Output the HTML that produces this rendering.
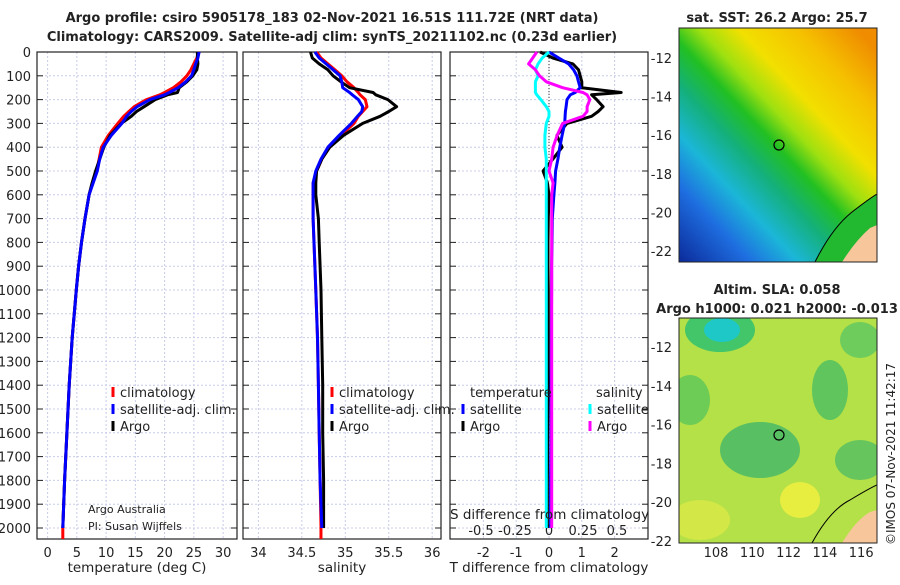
<!DOCTYPE html>
<html><head><meta charset="utf-8"><style>
body{margin:0;background:#fff;width:900px;height:580px;overflow:hidden}
svg{font-family:"DejaVu Sans","Liberation Sans",sans-serif}
</style></head><body>
<svg id="c" width="900" height="580" viewBox="0 0 900 580">
<defs>
<linearGradient id="sst" x1="0" y1="1" x2="0.9" y2="0">
<stop offset="0" stop-color="#0b2a9a"/><stop offset="0.18" stop-color="#1e6ee0"/><stop offset="0.3" stop-color="#1bb6d8"/><stop offset="0.42" stop-color="#14b07a"/><stop offset="0.52" stop-color="#22c022"/><stop offset="0.6" stop-color="#9ee010"/><stop offset="0.7" stop-color="#f2e000"/><stop offset="0.85" stop-color="#f5c000"/><stop offset="1" stop-color="#ef8c00"/>
</linearGradient>
<clipPath id="m1"><rect x="679" y="28" width="198" height="234"/></clipPath>
<clipPath id="m2"><rect x="679" y="318" width="198" height="225"/></clipPath>
</defs>
<g id="g"></g>
</svg>
<script>
// ---- data ----
const depths=[0,25,50,75,100,125,150,170,180,200,230,250,270,300,350,400,450,500,550,600,700,800,900,1000,1200,1400,1600,1800,2000];
const tempClim=[25.9,25.5,25,24.5,23.8,22.8,21.5,20,19.2,16.9,14.8,13.9,13,12,10.4,9.2,8.8,8.4,7.7,7.1,6.4,5.8,5.3,4.9,4.2,3.7,3.3,2.9,2.6];
const tempSat=[25.9,25.7,25.3,25,24.6,23.6,22.3,20.8,20,17.5,15.3,14.3,13.5,12.7,10.9,9.5,8.9,8.5,7.8,7.1,6.4,5.8,5.3,4.9,4.2,3.7,3.3,2.9,2.6];
const tempArgo=[25.6,25.6,25.7,25.5,24.8,23.8,22.5,22.2,20.5,18.4,16.5,15.2,14.3,12.6,10.7,9.6,8.9,8.2,7.6,7.1,6.4,5.8,5.3,4.9,4.2,3.7,3.3,2.9,2.6];
const salClim=[34.67,34.72,34.8,34.88,34.96,35.02,35.1,35.15,35.17,35.23,35.25,35.2,35.15,35.1,34.95,34.82,34.73,34.67,34.63,34.63,34.63,34.64,34.65,34.66,34.68,34.69,34.7,34.71,34.72];
const salSat=[34.65,34.7,34.78,34.86,34.94,34.96,34.97,35.05,35.08,35.15,35.2,35.19,35.14,35.07,34.93,34.8,34.72,34.66,34.63,34.63,34.63,34.64,34.65,34.66,34.68,34.69,34.7,34.71,34.73];
const salArgo=[34.6,34.62,34.7,34.8,34.86,34.95,35.05,35.32,35.35,35.49,35.59,35.5,35.4,35.2,34.98,34.82,34.73,34.67,34.66,34.66,34.69,34.7,34.71,34.72,34.73,34.74,34.74,34.75,34.75];
const dTSat=[0,0.3,0.6,0.75,0.85,0.9,0.95,0.8,0.65,0.55,0.52,0.5,0.49,0.48,0.4,0.33,0.27,0.2,0.18,0.15,0.1,0.09,0.08,0.08,0.07,0.06,0.06,0.05,0.05];
const dTArgo=[-0.27,0.12,0.73,0.9,0.95,1.0,1.0,2.2,1.3,1.45,1.65,1.5,1.3,0.55,0.24,0.4,0.12,-0.18,-0.05,0,-0.02,-0.03,-0.03,-0.02,-0.02,-0.03,-0.04,-0.05,-0.05];
const dSSat=[0,-0.05,-0.08,-0.1,-0.08,-0.1,-0.1,-0.1,-0.09,-0.06,-0.02,0,0,-0.02,-0.03,-0.03,-0.02,-0.02,-0.02,-0.02,-0.02,-0.02,-0.02,-0.02,-0.02,-0.02,-0.02,-0.02,-0.02];
const dSArgo=[-0.09,-0.12,-0.15,-0.1,-0.07,-0.02,0.1,0.25,0.28,0.3,0.28,0.28,0.25,0.1,0.06,0.03,0.02,0,0.03,0.02,0.02,0.02,0.02,0.02,0.02,0.02,0.02,0.02,0.02];
const depthTicks=[0,100,200,300,400,500,600,700,800,900,1000,1100,1200,1300,1400,1500,1600,1700,1800,1900,2000];
const tempTicks=[0,5,10,15,20,25,30];
const salTicks=[34,34.5,35,35.5,36];
const dTTicks=[-2,-1,0,1,2];
const dSTicks=[-0.5,-0.25,0,0.25,0.5];
const dSTickLabels=["-0.5","-0.25","0","0.25","0.5"];
const latTicks=[-12,-14,-16,-18,-20,-22];
const lonTicks=[108,110,112,114,116];
// ---- scales ----
const Y=d=>52+d*0.238;
const panels=[{x0:37,x1:237},{x0:243,x1:441},{x0:450,x1:648}];
const XT=t=>47.6+t*5.85, XS=s=>258.4+(s-34)*86.9, XdT=t=>549+t*32.8, XdS=s=>549+s*136;
const NS="http://www.w3.org/2000/svg", G=document.getElementById('g');
function el(tag,attrs,name,parent){const e=document.createElementNS(NS,tag);for(const k in attrs)e.setAttribute(k,attrs[k]);


(parent||G).appendChild(e);return e;}
function txt(x,y,s,name,o){const e=el('text',Object.assign({x:x,y:y,'font-size':13,fill:'#222'},o||{}),name);e.textContent=s;return e;}
function line(xs,X,col,name,w){let d='';depths.forEach((dp,i)=>{d+=(i?'L':'M')+X(xs[i]).toFixed(1)+','+Y(dp).toFixed(1)});el('path',{d:d,fill:'none',stroke:col,'stroke-width':w||3,'stroke-linejoin':'round'},name);}
panels.forEach((p,pi)=>{
 depthTicks.forEach(d=>{el('line',{x1:p.x0,x2:p.x1,y1:Y(d),y2:Y(d),stroke:'#c8cce8','stroke-dasharray':'2,2','stroke-width':1},'grid-h');
  el('line',{x1:p.x0,x2:p.x0+6,y1:Y(d),y2:Y(d),stroke:'#222'},'tick');el('line',{x1:p.x1-6,x2:p.x1,y1:Y(d),y2:Y(d),stroke:'#222'},'tick');});
});
tempTicks.forEach(t=>{el('line',{x1:XT(t),x2:XT(t),y1:52,y2:539,stroke:'#c8cce8','stroke-dasharray':'2,2'},'grid-v');txt(XT(t),557,String(t),'temp-tick-label',{'text-anchor':'middle'});});
salTicks.forEach(t=>{el('line',{x1:XS(t),x2:XS(t),y1:52,y2:539,stroke:'#c8cce8','stroke-dasharray':'2,2'},'grid-v');txt(XS(t),557,String(t),'sal-tick-label',{'text-anchor':'middle'});});
dTTicks.forEach(t=>{el('line',{x1:XdT(t),x2:XdT(t),y1:52,y2:539,stroke:'#c8cce8','stroke-dasharray':'2,2'},'grid-v');txt(XdT(t),557,String(t),'dt-tick-label',{'text-anchor':'middle'});});
dSTicks.forEach((t,i)=>txt(XdS(t),535,dSTickLabels[i],'ds-tick-label',{'text-anchor':'middle'}));
panels.forEach(p=>el('rect',{x:p.x0,y:52,width:p.x1-p.x0,height:487,fill:'none',stroke:'#222','stroke-width':1.2},'panel-frame'));
depthTicks.forEach(d=>txt(31,Y(d)+5,String(d),'depth-tick-label',{'text-anchor':'end'}));
line(tempClim,XT,'#f00','temp-climatology');line(tempArgo,XT,'#000','temp-argo');line(tempSat,XT,'#00f','temp-satellite');
line(salClim,XS,'#f00','sal-climatology');line(salArgo,XS,'#000','sal-argo');line(salSat,XS,'#00f','sal-satellite');
el('line',{x1:549,x2:549,y1:52,y2:Y(500),stroke:'#333','stroke-dasharray':'1,2'},'zero-line');
line(dTArgo,XdT,'#000','dt-argo');line(dTSat,XdT,'#00f','dt-satellite');line(dSSat,XdS,'#0ff','ds-satellite');line(dSArgo,XdS,'#f0f','ds-argo');
el('line',{x1:XT(2.6),x2:XT(2.6),y1:Y(2000),y2:539,stroke:'#f00','stroke-width':3},'temp-clim-bottom');
el('line',{x1:XS(34.72),x2:XS(34.72),y1:Y(2000),y2:539,stroke:'#f00','stroke-width':3},'sal-clim-bottom');
function leg(x,y,col,label){el('line',{x1:x,x2:x,y1:y-10,y2:y,stroke:col,'stroke-width':3},'legend-marker');txt(x+7,y,label,'legend-entry');}
[[113,'#f00','climatology'],[113,'#00f','satellite-adj. clim.'],[113,'#000','Argo']].forEach((l,i)=>leg(l[0],397+i*17,l[1],l[2]));
[[332,'#f00','climatology'],[332,'#00f','satellite-adj. clim.'],[332,'#000','Argo']].forEach((l,i)=>leg(l[0],397+i*17,l[1],l[2]));
txt(470,397,'temperature','legend-title');txt(596,397,'salinity','legend-title');
leg(463,414,'#00f','satellite');leg(463,431,'#000','Argo');leg(590,414,'#0ff','satellite');leg(590,431,'#f0f','Argo');
txt(88,513,'Argo Australia','credit',{'font-size':11});txt(88,530,'PI: Susan Wijffels','credit',{'font-size':11});
txt(450,519,'S difference from climatology','ds-axis-title',{'font-size':13.5});
txt(137,572,'temperature (deg C)','x-axis-title',{'text-anchor':'middle','font-size':13.5});
txt(342,572,'salinity','x-axis-title',{'text-anchor':'middle','font-size':13.5});
txt(549,572,'T difference from climatology','x-axis-title',{'text-anchor':'middle','font-size':13.5});
txt(332,22,'Argo profile: csiro 5905178_183 02-Nov-2021 16.51S 111.72E (NRT data)','title-line1',{'text-anchor':'middle','font-weight':'bold','font-size':13});
txt(332,41,'Climatology: CARS2009. Satellite-adj clim: synTS_20211102.nc (0.23d earlier)','title-line2',{'text-anchor':'middle','font-weight':'bold','font-size':13});
const mg1=el('g',{'clip-path':'url(#m1)'},'sst-map');
el('rect',{x:679,y:28,width:198,height:234,fill:'url(#sst)'},'sst-field',mg1);
el('path',{d:'M815,262 Q832,228 852,212 Q870,198 877,194 L877,262 Z',fill:'#22b830',stroke:'#000'},'coast-land-green',mg1);
el('path',{d:'M842,262 Q856,240 870,228 L877,225 L877,262 Z',fill:'#f7c69a'},'land',mg1);
const mg2=el('g',{'clip-path':'url(#m2)'},'sla-map');
el('rect',{x:679,y:318,width:198,height:225,fill:'#b4e048'},'sla-field',mg2);
[[720,330,35,22,'#2fc070'],[722,330,18,12,'#18c8d8'],[690,400,20,25,'#60c858'],[830,390,18,30,'#50c060'],[760,450,40,28,'#48b868'],[860,460,25,20,'#58c060'],[700,520,30,20,'#d8e848'],[800,500,20,18,'#f0f040'],[860,340,20,18,'#60c860']].forEach(b=>el('ellipse',{cx:b[0],cy:b[1],rx:b[2],ry:b[3],fill:b[4],opacity:0.85},'sla-blob',mg2));
el('path',{d:'M812,543 Q830,510 850,500 Q870,488 877,485 L877,543 Z',fill:'none',stroke:'#000'},'coastline',mg2);
el('path',{d:'M842,543 Q856,520 870,512 L877,510 L877,543 Z',fill:'#f7c69a'},'land',mg2);
el('rect',{x:679,y:28,width:198,height:234,fill:'none',stroke:'#222'},'map-frame');
el('rect',{x:679,y:318,width:198,height:225,fill:'none',stroke:'#222'},'map-frame');
el('circle',{cx:779,cy:145,r:5,fill:'none',stroke:'#000','stroke-width':1.2},'argo-location');
el('circle',{cx:779,cy:435,r:5,fill:'none',stroke:'#000','stroke-width':1.2},'argo-location');
latTicks.forEach((l,i)=>{txt(672,63+i*38.6,String(l),'lat-label',{'text-anchor':'end'});txt(672,352+i*38.8,String(l),'lat-label',{'text-anchor':'end'});});
lonTicks.forEach((l,i)=>txt(716+i*36.3,557,String(l),'lon-label',{'text-anchor':'middle'}));
txt(777,22,'sat. SST: 26.2 Argo: 25.7','sst-title',{'text-anchor':'middle','font-weight':'bold'});
txt(777,294,'Altim. SLA: 0.058','sla-title',{'text-anchor':'middle','font-weight':'bold'});
txt(777,313,'Argo h1000: 0.021 h2000: -0.013','sla-subtitle',{'text-anchor':'middle','font-weight':'bold'});
txt(0,0,'©IMOS 07-Nov-2021 11:42:17','imos-stamp',{transform:'translate(895,545) rotate(-90)','font-size':12});
</script>
</body></html>
